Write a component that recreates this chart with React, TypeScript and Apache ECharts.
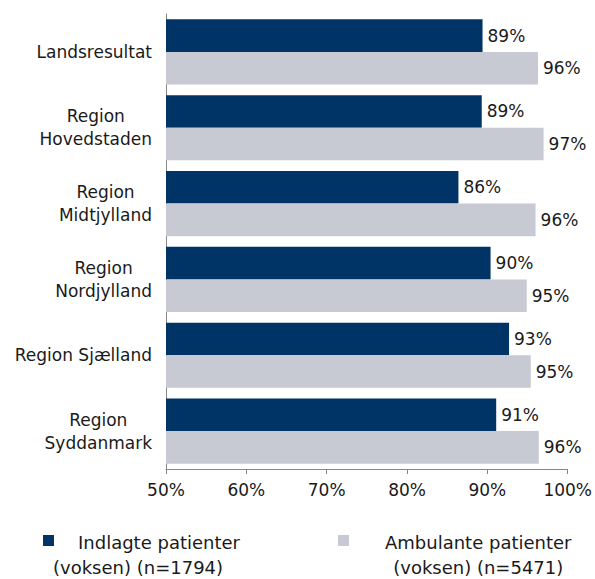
import React, { useEffect, useRef } from "react";
import * as echarts from "echarts";

const categories = [
  "Landsresultat",
  "Region\nHovedstaden",
  "Region\nMidtjylland",
  "Region\nNordjylland",
  "Region Sjælland",
  "Region\nSyddanmark",
];
const indlagte = [89.4, 89.3, 86.4, 90.4, 92.7, 91.1];
const ambulante = [96.3, 97.0, 96.0, 94.9, 95.4, 96.4];
const seriesNames = ["Indlagte patienter (voksen) (n=1794)", "Ambulante patienter (voksen) (n=5471)"];
const xTicks = [50, 60, 70, 80, 90, 100];

const FONT = "DejaVu Sans";
const TXT = "#1a1a1a";
const AXIS = "#868686";
const DARK = "#003366";
const LIGHT = "#C8CAD3";

export default function App() {
  const ref = useRef<HTMLDivElement>(null);
  useEffect(() => {
    document.body.style.margin = "0";
    const chart = echarts.init(ref.current!, null, { renderer: "svg" });
    const labelFmt = (p: any) => Math.round(p.value) + "%";
    chart.setOption({
      animation: false,
      textStyle: { fontFamily: FONT },
      grid: { left: 166, right: 26, top: 14, bottom: 110 },
      xAxis: {
        type: "value",
        min: xTicks[0],
        max: xTicks[xTicks.length - 1],
        interval: 10,
        axisLine: { show: true, lineStyle: { color: AXIS, width: 1 } },
        axisTick: { show: true, length: 5, lineStyle: { color: AXIS } },
        splitLine: { show: false },
        axisLabel: {
          formatter: "{value}%",
          color: TXT,
          fontSize: 17,
          fontFamily: FONT,
          margin: 12,
        },
      },
      yAxis: {
        type: "category",
        data: categories,
        inverse: true,
        axisLine: { show: true, lineStyle: { color: AXIS, width: 1 } },
        axisTick: { show: false },
        axisLabel: {
          color: TXT,
          fontSize: 17,
          fontFamily: FONT,
          align: "right",
          margin: 14,
          lineHeight: 23,
          formatter: (v: string) =>
            v
              .split("\n")
              .map((s) => "{c|" + s + "}")
              .join("\n"),
          rich: {
            c: { align: "center", fontSize: 17, fontFamily: FONT, color: TXT, lineHeight: 23 },
          },
        },
      },
      legend: [
        {
          data: [seriesNames[0]],
          left: 43,
          top: 501,
          padding: 0,
          itemWidth: 11,
          itemHeight: 11,
          icon: "rect",
          formatter: () => "{a|Indlagte patienter}\n{b|(voksen) (n=1794)}",
          textStyle: {
            color: TXT,
            fontSize: 18,
            fontFamily: FONT,
            lineHeight: 25,
            padding: [29, 0, 0, -6],
            rich: {
              a: { fontSize: 18, fontFamily: FONT, color: TXT, lineHeight: 25, padding: [0, 0, 0, 25] },
              b: { fontSize: 18, fontFamily: FONT, color: TXT, lineHeight: 25 },
            },
          },
        },
        {
          data: [seriesNames[1]],
          left: 338,
          top: 501,
          padding: 0,
          itemWidth: 11,
          itemHeight: 11,
          icon: "rect",
          formatter: () => "{a|Ambulante patienter}\n{a|(voksen) (n=5471)}",
          textStyle: {
            color: TXT,
            fontSize: 18,
            fontFamily: FONT,
            lineHeight: 25,
            padding: [29, 0, 0, 31],
            rich: {
              a: { fontSize: 18, fontFamily: FONT, color: TXT, lineHeight: 25, align: "center" },
            },
          },
        },
      ],
      series: [
        {
          name: seriesNames[0],
          type: "bar",
          data: indlagte,
          barGap: "0%",
          barCategoryGap: "14%",
          itemStyle: { color: DARK },
          label: { show: true, position: "right", distance: 5, formatter: labelFmt, color: TXT, fontSize: 17, fontFamily: FONT },
        },
        {
          name: seriesNames[1],
          type: "bar",
          data: ambulante,
          barGap: "0%",
          barCategoryGap: "14%",
          itemStyle: { color: LIGHT },
          label: { show: true, position: "right", distance: 5, formatter: labelFmt, color: TXT, fontSize: 17, fontFamily: FONT },
        },
      ],
    });
    return () => chart.dispose();
  }, []);
  return <div ref={ref} style={{ width: 595, height: 579 }} />;
}
